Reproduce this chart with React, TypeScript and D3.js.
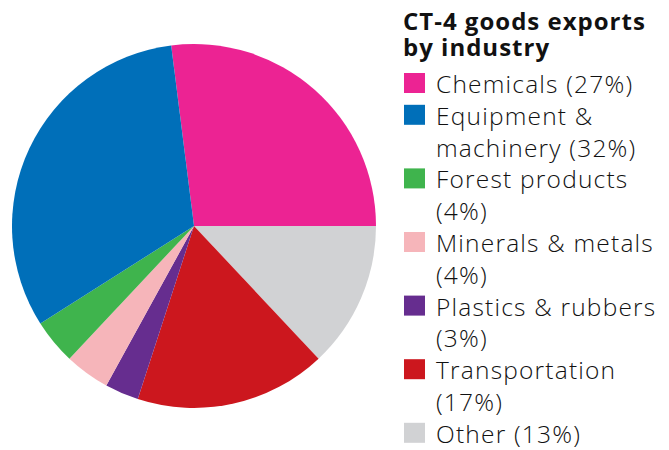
import React from 'react';
import * as d3 from 'd3';

// slice order runs clockwise, starting so that Chemicals ends at 3 o'clock
const categories = ['Chemicals', 'Other', 'Transportation', 'Plastics & rubbers', 'Minerals & metals', 'Forest products', 'Equipment & machinery'];
const shares = [27, 13, 17, 3, 4, 4, 32];
const colors = ['#EC2393', '#D1D2D4', '#CC171E', '#662D8F', '#F6B5BA', '#3FB44D', '#006FB9'];

// legend order and wrapped lines
const legendOrder = ['Chemicals', 'Equipment & machinery', 'Forest products', 'Minerals & metals', 'Plastics & rubbers', 'Transportation', 'Other'];
const legendLines = [
  ['Chemicals (27%)'],
  ['Equipment &', 'machinery (32%)'],
  ['Forest products', '(4%)'],
  ['Minerals & metals', '(4%)'],
  ['Plastics & rubbers', '(3%)'],
  ['Transportation', '(17%)'],
  ['Other (13%)']
];
const titleLines = ['CT-4 goods exports', 'by industry'];

const W = 669;
const H = 450;
const cx = 194;
const cy = 226;
const radius = 182;

const App: React.FC = () => {
  const startAngle = Math.PI / 2 - (shares[0] / 100) * 2 * Math.PI;
  const pie = d3.pie<number>().sort(null).startAngle(startAngle).endAngle(startAngle + 2 * Math.PI);
  const arc = d3.arc<d3.PieArcDatum<number>>().innerRadius(0).outerRadius(radius);
  const arcs = pie(shares);
  const color = d3.scaleOrdinal<string, string>().domain(categories).range(colors);

  const lineH = 31.8;
  const firstBase = 93;
  let row = 0;

  return (
    <svg width={W} height={H} style={{ position: 'absolute', left: 0, top: 0 }}>
      <g transform={`translate(${cx},${cy})`}>
        {arcs.map((d, i) => (
          <path key={categories[i]} d={arc(d) || ''} fill={color(categories[i])} />
        ))}
      </g>
      <g fontFamily="'Open Sans', sans-serif">
        {titleLines.map((t, i) => (
          <text key={t} x={403} y={30 + i * 26} fontSize={24} fontWeight={700} letterSpacing={1} fill="#111">
            {t}
          </text>
        ))}
        {legendOrder.map((name, i) => {
          const r0 = row;
          row += legendLines[i].length;
          const base = firstBase + r0 * lineH;
          return (
            <g key={name}>
              <rect x={404} y={base - 20} width={21} height={20} fill={color(name)} />
              {legendLines[i].map((l, j) => (
                <text key={l} x={436} y={base + j * lineH} fontSize={24.5} fontWeight={300} letterSpacing={1.2} fill="#111">
                  {l}
                </text>
              ))}
            </g>
          );
        })}
      </g>
    </svg>
  );
};

export default App;
